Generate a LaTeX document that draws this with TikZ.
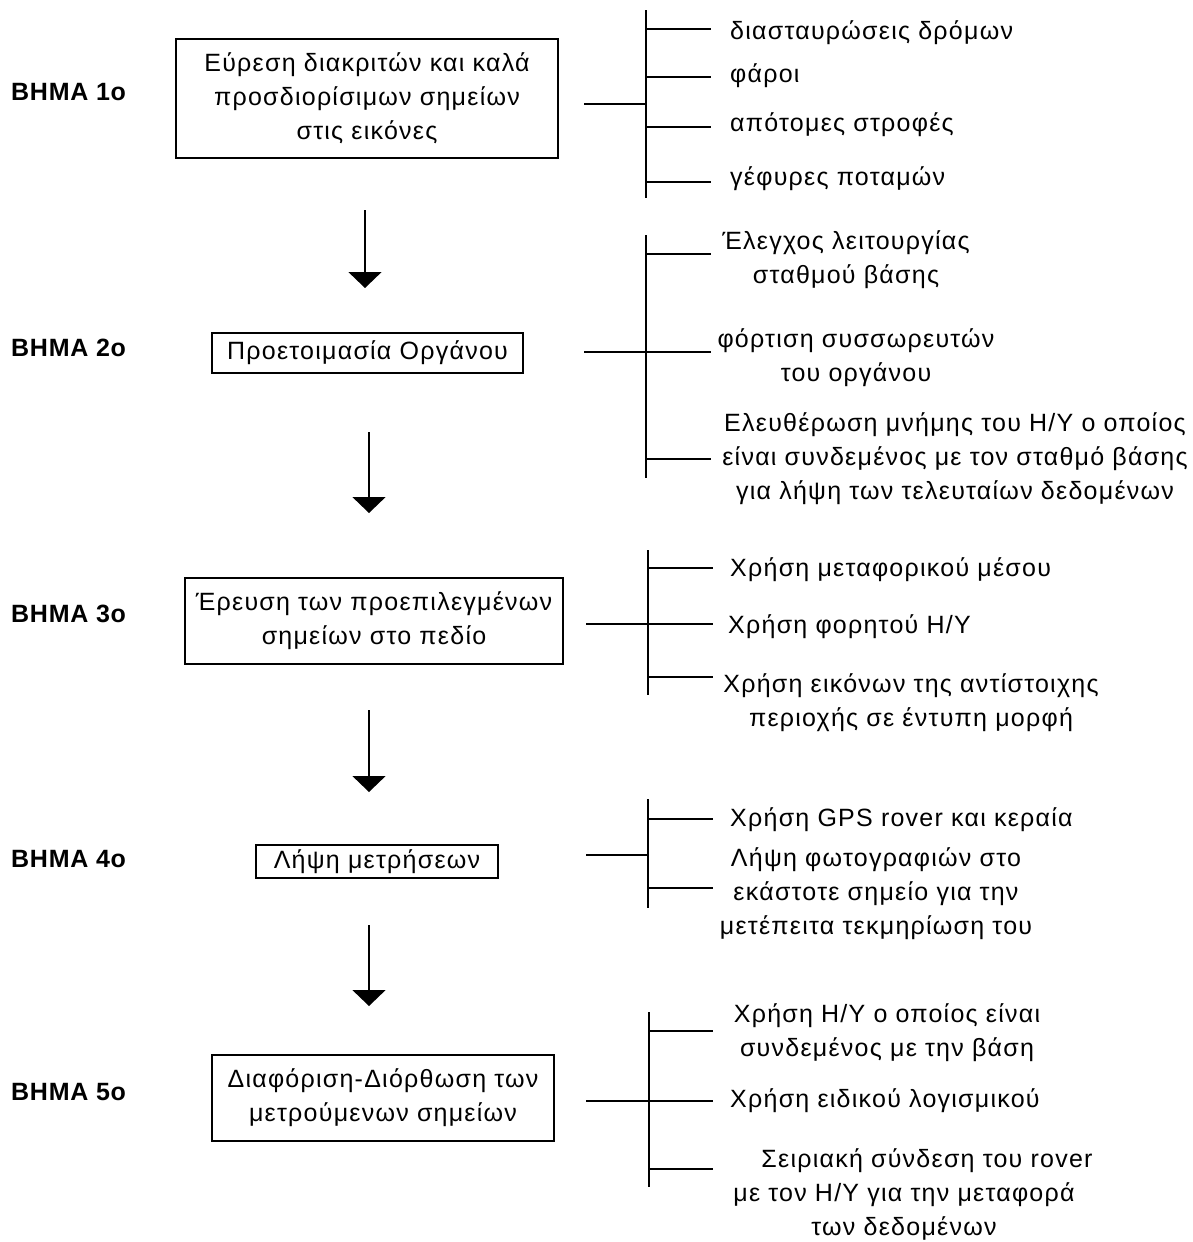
\documentclass[tikz,border=0pt]{standalone}
\usepackage{fontspec}
\setmainfont{Liberation Sans}[LetterSpace=5]
\newfontfamily\lblfont{Liberation Sans}[LetterSpace=3]
\usetikzlibrary{arrows.meta}
\begin{document}
\begin{tikzpicture}[x=1pt,y=-1pt,
  ln/.style={line width=1.6pt,black},
  stepbox/.style={draw,line width=1.6pt,inner sep=0pt,align=center,font=\fontsize{25}{34}\selectfont},
  lbl/.style={anchor=west,inner sep=0pt,font=\fontsize{25}{30}\selectfont\lblfont\bfseries},
  itm/.style={anchor=west,inner sep=0pt,font=\fontsize{25}{34}\selectfont},
  itmc/.style={inner sep=0pt,align=center,font=\fontsize{25}{34}\selectfont},
  flow/.style={line width=1.6pt,-{Triangle[length=16pt,width=33pt]}}]
\fill[white] (0,0) rectangle (1193,1242);
\useasboundingbox (0,0) rectangle (1193,1242);
% step labels
\node[lbl] (l1) at (11,92) {ΒΗΜΑ 1ο};
\node[lbl] (l2) at (11,348) {ΒΗΜΑ 2ο};
\node[lbl] (l3) at (11,614) {ΒΗΜΑ 3ο};
\node[lbl] (l4) at (11,859) {ΒΗΜΑ 4ο};
\node[lbl] (l5) at (11,1092) {ΒΗΜΑ 5ο};
% boxes
\node[stepbox,minimum width=382pt,minimum height=119pt] (b1) at (367,98.5) {Εύρεση διακριτών και καλά\\προσδιορίσιμων σημείων\\στις εικόνες};
\node[stepbox,minimum width=311pt,minimum height=40pt] (b2) at (367.5,353) {Προετοιμασία Οργάνου};
\node[stepbox,minimum width=378pt,minimum height=86pt] (b3) at (374,621) {Έρευση των προεπιλεγμένων\\σημείων στο πεδίο};
\node[stepbox,minimum width=242pt,minimum height=33pt] (b4) at (377,861.5) {Λήψη μετρήσεων};
\node[stepbox,minimum width=342pt,minimum height=86pt] (b5) at (383,1098) {Διαφόριση-Διόρθωση των\\μετρούμενων σημείων};
% flow arrows
\coordinate (a1s) at (365,210); \coordinate (a1e) at (365,288);
\coordinate (a2s) at (369,432); \coordinate (a2e) at (369,513);
\coordinate (a3s) at (369,710); \coordinate (a3e) at (369,792);
\coordinate (a4s) at (369,925); \coordinate (a4e) at (369,1006);
\draw[flow] (a1s) -- (a1e);
\draw[flow] (a2s) -- (a2e);
\draw[flow] (a3s) -- (a3e);
\draw[flow] (a4s) -- (a4e);
% step 1 branches
\coordinate (v1t) at (646,10); \coordinate (v1b) at (646,198);
\coordinate (s1a) at (584,104); \coordinate (s1b) at (646,104);
\draw[ln] (v1t) -- (v1b);
\draw[ln] (s1a) -- (s1b);
\foreach \n/\y in {a/29,b/77,c/127,d/182}{
  \coordinate (p1\n) at (646,\y); \coordinate (q1\n) at (711,\y);
  \draw[ln] (p1\n) -- (q1\n);}
\node[itm] (t1a) at (730,33) {διασταυρώσεις δρόμων};
\node[itm] (t1b) at (730,76) {φάροι};
\node[itm] (t1c) at (730,125) {απότομες στροφές};
\node[itm] (t1d) at (730,179) {γέφυρες ποταμών};
% step 2 branches
\coordinate (v2t) at (646,235); \coordinate (v2b) at (646,478);
\coordinate (s2a) at (584,352); \coordinate (s2b) at (646,352);
\draw[ln] (v2t) -- (v2b);
\draw[ln] (s2a) -- (s2b);
\foreach \n/\y in {a/254,b/352,c/459}{
  \coordinate (p2\n) at (646,\y); \coordinate (q2\n) at (711,\y);
  \draw[ln] (p2\n) -- (q2\n);}
\node[itmc] (t2a) at (846,260) {Έλεγχος λειτουργίας\\σταθμού βάσης};
\node[itmc] (t2b) at (856,358) {φόρτιση συσσωρευτών\\του οργάνου};
\node[itmc] (t2c) at (955,459) {Ελευθέρωση μνήμης του Η/Υ ο οποίος\\είναι συνδεμένος με τον σταθμό βάσης\\για λήψη των τελευταίων δεδομένων};
% step 3 branches
\coordinate (v3t) at (648,550); \coordinate (v3b) at (648,695);
\coordinate (s3a) at (586,624); \coordinate (s3b) at (648,624);
\draw[ln] (v3t) -- (v3b);
\draw[ln] (s3a) -- (s3b);
\foreach \n/\y in {a/568,b/624,c/677}{
  \coordinate (p3\n) at (648,\y); \coordinate (q3\n) at (713,\y);
  \draw[ln] (p3\n) -- (q3\n);}
\node[itm] (t3a) at (730,570) {Χρήση μεταφορικού μέσου};
\node[itm] (t3b) at (728,627) {Χρήση φορητού Η/Υ};
\node[itmc] (t3c) at (911,703) {Χρήση εικόνων της αντίστοιχης\\περιοχής σε έντυπη μορφή};
% step 4 branches
\coordinate (v4t) at (648,799); \coordinate (v4b) at (648,908);
\coordinate (s4a) at (586,855); \coordinate (s4b) at (648,855);
\draw[ln] (v4t) -- (v4b);
\draw[ln] (s4a) -- (s4b);
\foreach \n/\y in {a/819,b/888}{
  \coordinate (p4\n) at (648,\y); \coordinate (q4\n) at (713,\y);
  \draw[ln] (p4\n) -- (q4\n);}
\node[itm] (t4a) at (730,820) {Χρήση GPS rover και κεραία};
\node[itmc] (t4b) at (876,894) {Λήψη φωτογραφιών στο\\εκάστοτε σημείο για την\\μετέπειτα τεκμηρίωση του};
% step 5 branches
\coordinate (v5t) at (649,1012); \coordinate (v5b) at (649,1187);
\coordinate (s5a) at (586,1101); \coordinate (s5b) at (649,1101);
\draw[ln] (v5t) -- (v5b);
\draw[ln] (s5a) -- (s5b);
\foreach \n/\y in {a/1031,b/1101,c/1169}{
  \coordinate (p5\n) at (649,\y); \coordinate (q5\n) at (713,\y);
  \draw[ln] (p5\n) -- (q5\n);}
\node[itmc] (t5a) at (887,1033) {Χρήση Η/Υ ο οποίος είναι\\συνδεμένος με την βάση};
\node[itm] (t5b) at (730,1101) {Χρήση ειδικού λογισμικού};
\node[itmc] (t5c) at (904,1194) {\hspace*{46pt}Σειριακή σύνδεση του rover\\με τον Η/Υ για την μεταφορά\\των δεδομένων};
\end{tikzpicture}
\end{document}
